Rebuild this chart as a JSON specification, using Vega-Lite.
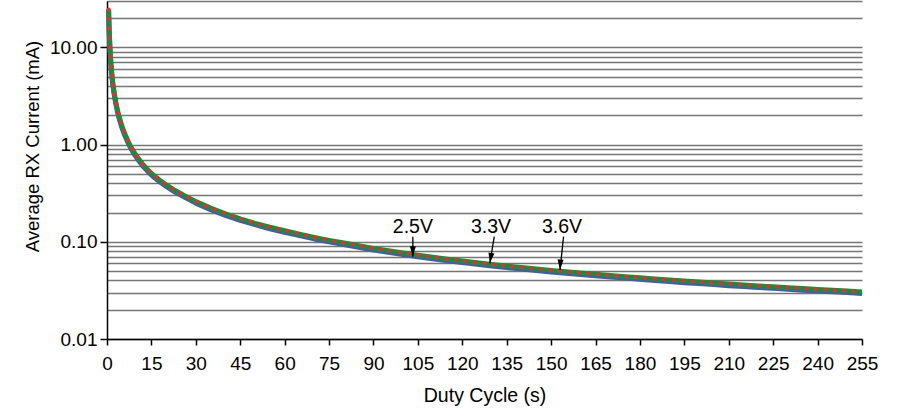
{
  "$schema": "https://vega.github.io/schema/vega-lite/v6.json",
  "width": 755,
  "height": 338,
  "autosize": {"type": "none"},
  "padding": {"left": 107, "top": 1, "right": 45, "bottom": 81},
  "background": "white",
  "config": {
    "view": {"stroke": null},
    "font": "Liberation Sans"
  },
  "datasets": {
    "curves": [
      {"T": 0.55, "v25": 23.6, "v33": 24.5, "v36": 24.5},
      {"T": 0.6, "v25": 20.3, "v33": 21, "v36": 21},
      {"T": 0.7, "v25": 15.8, "v33": 16.4, "v36": 16.4},
      {"T": 0.8, "v25": 13.0, "v33": 13.5, "v36": 13.5},
      {"T": 0.9, "v25": 11.0, "v33": 11.4, "v36": 11.4},
      {"T": 1.0, "v25": 9.55, "v33": 9.9, "v36": 9.9},
      {"T": 1.25, "v25": 7.14, "v33": 7.4, "v36": 7.4},
      {"T": 1.5, "v25": 5.69, "v33": 5.9, "v36": 5.9},
      {"T": 1.75, "v25": 4.73, "v33": 4.9, "v36": 4.9},
      {"T": 2, "v25": 4.05, "v33": 4.2, "v36": 4.2},
      {"T": 2.5, "v25": 3.18, "v33": 3.3, "v36": 3.3},
      {"T": 3, "v25": 2.61, "v33": 2.7, "v36": 2.7},
      {"T": 3.5, "v25": 2.2, "v33": 2.28, "v36": 2.28},
      {"T": 4, "v25": 1.9, "v33": 1.97, "v36": 1.97},
      {"T": 5, "v25": 1.505, "v33": 1.56, "v36": 1.56},
      {"T": 6, "v25": 1.245, "v33": 1.29, "v36": 1.29},
      {"T": 7, "v25": 1.062, "v33": 1.1, "v36": 1.1},
      {"T": 8, "v25": 0.922, "v33": 0.955, "v36": 0.955},
      {"T": 9, "v25": 0.815, "v33": 0.845, "v36": 0.845},
      {"T": 10, "v25": 0.733, "v33": 0.76, "v36": 0.76},
      {"T": 12, "v25": 0.608, "v33": 0.63, "v36": 0.63},
      {"T": 14, "v25": 0.521, "v33": 0.54, "v36": 0.54},
      {"T": 16, "v25": 0.458, "v33": 0.475, "v36": 0.475},
      {"T": 18, "v25": 0.41, "v33": 0.425, "v36": 0.425},
      {"T": 20, "v25": 0.372, "v33": 0.385, "v36": 0.385},
      {"T": 23, "v25": 0.325, "v33": 0.337, "v36": 0.337},
      {"T": 26, "v25": 0.29, "v33": 0.3, "v36": 0.3},
      {"T": 30, "v25": 0.25, "v33": 0.259, "v36": 0.259},
      {"T": 35, "v25": 0.214, "v33": 0.222, "v36": 0.222},
      {"T": 40, "v25": 0.187, "v33": 0.194, "v36": 0.194},
      {"T": 45, "v25": 0.166, "v33": 0.172, "v36": 0.172},
      {"T": 50, "v25": 0.15, "v33": 0.155, "v36": 0.155},
      {"T": 55, "v25": 0.136, "v33": 0.141, "v36": 0.141},
      {"T": 60, "v25": 0.125, "v33": 0.13, "v36": 0.13},
      {"T": 65, "v25": 0.116, "v33": 0.12, "v36": 0.12},
      {"T": 70, "v25": 0.107, "v33": 0.111, "v36": 0.111},
      {"T": 75, "v25": 0.0999, "v33": 0.1035, "v36": 0.1035},
      {"T": 80, "v25": 0.0936, "v33": 0.097, "v36": 0.097},
      {"T": 85, "v25": 0.0878, "v33": 0.091, "v36": 0.091},
      {"T": 90, "v25": 0.0825, "v33": 0.0855, "v36": 0.0855},
      {"T": 95, "v25": 0.0782, "v33": 0.081, "v36": 0.081},
      {"T": 100, "v25": 0.074, "v33": 0.0767, "v36": 0.0767},
      {"T": 105, "v25": 0.0703, "v33": 0.0728, "v36": 0.0728},
      {"T": 110, "v25": 0.067, "v33": 0.0694, "v36": 0.0694},
      {"T": 115, "v25": 0.0639, "v33": 0.0662, "v36": 0.0662},
      {"T": 120, "v25": 0.0612, "v33": 0.0634, "v36": 0.0634},
      {"T": 125, "v25": 0.0587, "v33": 0.0608, "v36": 0.0608},
      {"T": 130, "v25": 0.0565, "v33": 0.0585, "v36": 0.0585},
      {"T": 135, "v25": 0.0543, "v33": 0.0563, "v36": 0.0563},
      {"T": 140, "v25": 0.0524, "v33": 0.0543, "v36": 0.0543},
      {"T": 145, "v25": 0.0507, "v33": 0.0525, "v36": 0.0525},
      {"T": 150, "v25": 0.049, "v33": 0.0508, "v36": 0.0508},
      {"T": 155, "v25": 0.0475, "v33": 0.0492, "v36": 0.0492},
      {"T": 160, "v25": 0.046, "v33": 0.0477, "v36": 0.0477},
      {"T": 165, "v25": 0.0447, "v33": 0.0463, "v36": 0.0463},
      {"T": 170, "v25": 0.0434, "v33": 0.045, "v36": 0.045},
      {"T": 175, "v25": 0.0423, "v33": 0.0438, "v36": 0.0438},
      {"T": 180, "v25": 0.0411, "v33": 0.0426, "v36": 0.0426},
      {"T": 185, "v25": 0.04, "v33": 0.0415, "v36": 0.0415},
      {"T": 190, "v25": 0.039, "v33": 0.0404, "v36": 0.0404},
      {"T": 195, "v25": 0.038, "v33": 0.0394, "v36": 0.0394},
      {"T": 200, "v25": 0.0372, "v33": 0.0385, "v36": 0.0385},
      {"T": 205, "v25": 0.0363, "v33": 0.0376, "v36": 0.0376},
      {"T": 210, "v25": 0.0354, "v33": 0.0367, "v36": 0.0367},
      {"T": 215, "v25": 0.0346, "v33": 0.0359, "v36": 0.0359},
      {"T": 220, "v25": 0.0339, "v33": 0.0351, "v36": 0.0351},
      {"T": 225, "v25": 0.0332, "v33": 0.0344, "v36": 0.0344},
      {"T": 230, "v25": 0.0325, "v33": 0.0337, "v36": 0.0337},
      {"T": 235, "v25": 0.0318, "v33": 0.033, "v36": 0.033},
      {"T": 240, "v25": 0.0312, "v33": 0.0323, "v36": 0.0323},
      {"T": 245, "v25": 0.0306, "v33": 0.0317, "v36": 0.0317},
      {"T": 250, "v25": 0.03, "v33": 0.0311, "v36": 0.0311},
      {"T": 255, "v25": 0.0294, "v33": 0.0305, "v36": 0.0305}
    ],
    "notes": [
      {"label": "2.5V", "T": 103.3, "ty": 0.1232, "T1": 103.3, "y1": 0.1129, "T2": 103.3, "y2": 0.0703},
      {"label": "3.3V", "T": 129.7, "ty": 0.1232, "T1": 130.8, "y1": 0.1129, "T2": 129.3, "y2": 0.0601},
      {"label": "3.6V", "T": 153.7, "ty": 0.1232, "T1": 154.2, "y1": 0.1129, "T2": 153.0, "y2": 0.0513}
    ]
  },
  "layer": [
    {
      "data": {"name": "curves"},
      "mark": {"type": "line", "color": "#3b5db5", "strokeWidth": 5, "strokeJoin": "round"},
      "encoding": {
        "x": {
          "field": "T", "type": "quantitative", "title": "Duty Cycle (s)",
          "scale": {"domain": [0, 255], "nice": false, "zero": false},
          "axis": {
            "values": [0, 15, 30, 45, 60, 75, 90, 105, 120, 135, 150, 165, 180, 195, 210, 225, 240, 255],
            "grid": false,
            "domainColor": "#000000", "domainWidth": 1.5,
            "tickColor": "#000000", "tickWidth": 1.5, "tickSize": 6,
            "labelFontSize": 19, "labelColor": "#000000", "labelFlush": false,
            "labelBaseline": "alphabetic", "labelPadding": 24, "labelOverlap": false,
            "titleFontSize": 19.5, "titleFontWeight": "normal", "titleColor": "#000000",
            "titleBaseline": "alphabetic", "titleY": 62.7
          }
        },
        "y": {
          "field": "v25", "type": "quantitative", "title": "Average RX Current (mA)",
          "scale": {"type": "log", "domain": [0.01, 30], "nice": false},
          "axis": {
            "values": [0.01, 0.02, 0.03, 0.04, 0.05, 0.06, 0.07, 0.08, 0.09, 0.1, 0.2, 0.3, 0.4, 0.5, 0.6, 0.7, 0.8, 0.9, 1, 2, 3, 4, 5, 6, 7, 8, 9, 10, 20, 30],
            "grid": true, "gridColor": "#767676", "gridWidth": 1.3,
            "domainColor": "#000000", "domainWidth": 1.5,
            "tickColor": "#000000", "tickWidth": 1.5, "tickSize": 7,
            "tickOpacity": {"condition": {"test": "indexof([0.01, 0.1, 1, 10], datum.value) >= 0", "value": 1}, "value": 0},
            "labelExpr": "indexof([0.01, 0.1, 1, 10], datum.value) >= 0 ? format(datum.value, '.2f') : ''",
            "labelFontSize": 19, "labelColor": "#000000", "labelPadding": 3, "labelOverlap": false,
            "titleFontSize": 18.5, "titleFontWeight": "normal", "titleColor": "#000000",
            "titleX": -69, "titleY": 145, "titleAngle": -90, "titleAlign": "center", "titleBaseline": "alphabetic"
          }
        }
      }
    },
    {
      "data": {"name": "curves"},
      "mark": {"type": "line", "color": "#1f8a3f", "strokeWidth": 5, "strokeJoin": "round"},
      "encoding": {
        "x": {"field": "T", "type": "quantitative", "title": "Duty Cycle (s)"},
        "y": {"field": "v33", "type": "quantitative", "title": "Average RX Current (mA)"}
      }
    },
    {
      "data": {"name": "curves"},
      "mark": {"type": "line", "color": "#ee2a2a", "strokeWidth": 4, "strokeCap": "round", "strokeDash": [0.1, 9.4]},
      "encoding": {
        "x": {"field": "T", "type": "quantitative", "title": "Duty Cycle (s)"},
        "y": {"field": "v36", "type": "quantitative", "title": "Average RX Current (mA)"}
      }
    },
    {
      "data": {"name": "notes"},
      "mark": {"type": "text", "fontSize": 19.5, "color": "#000000", "align": "center", "baseline": "alphabetic"},
      "encoding": {
        "x": {"field": "T", "type": "quantitative", "title": "Duty Cycle (s)"},
        "y": {"field": "ty", "type": "quantitative", "title": "Average RX Current (mA)"},
        "text": {"field": "label"}
      }
    },
    {
      "data": {"name": "notes"},
      "mark": {"type": "rule", "color": "#000000", "strokeWidth": 1.3},
      "encoding": {
        "x": {"field": "T1", "type": "quantitative", "title": "Duty Cycle (s)"},
        "y": {"field": "y1", "type": "quantitative", "title": "Average RX Current (mA)"},
        "x2": {"field": "T2"},
        "y2": {"field": "y2"}
      }
    },
    {
      "data": {"name": "notes"},
      "transform": [{"filter": "datum.label === '2.5V'"}],
      "mark": {"type": "point", "shape": "M0,0L-1,-3.5L1,-3.5Z", "size": 36, "filled": true, "color": "#000000", "opacity": 1, "strokeWidth": 0},
      "encoding": {
        "x": {"field": "T2", "type": "quantitative", "title": "Duty Cycle (s)"},
        "y": {"field": "y2", "type": "quantitative", "title": "Average RX Current (mA)"}
      }
    },
    {
      "data": {"name": "notes"},
      "transform": [{"filter": "datum.label === '3.3V'"}],
      "mark": {"type": "point", "shape": "M0,0L-1,-3.5L1,-3.5Z", "size": 36, "filled": true, "color": "#000000", "opacity": 1, "strokeWidth": 0, "angle": 9},
      "encoding": {
        "x": {"field": "T2", "type": "quantitative", "title": "Duty Cycle (s)"},
        "y": {"field": "y2", "type": "quantitative", "title": "Average RX Current (mA)"}
      }
    },
    {
      "data": {"name": "notes"},
      "transform": [{"filter": "datum.label === '3.6V'"}],
      "mark": {"type": "point", "shape": "M0,0L-1,-3.5L1,-3.5Z", "size": 36, "filled": true, "color": "#000000", "opacity": 1, "strokeWidth": 0, "angle": 3},
      "encoding": {
        "x": {"field": "T2", "type": "quantitative", "title": "Duty Cycle (s)"},
        "y": {"field": "y2", "type": "quantitative", "title": "Average RX Current (mA)"}
      }
    }
  ]
}
